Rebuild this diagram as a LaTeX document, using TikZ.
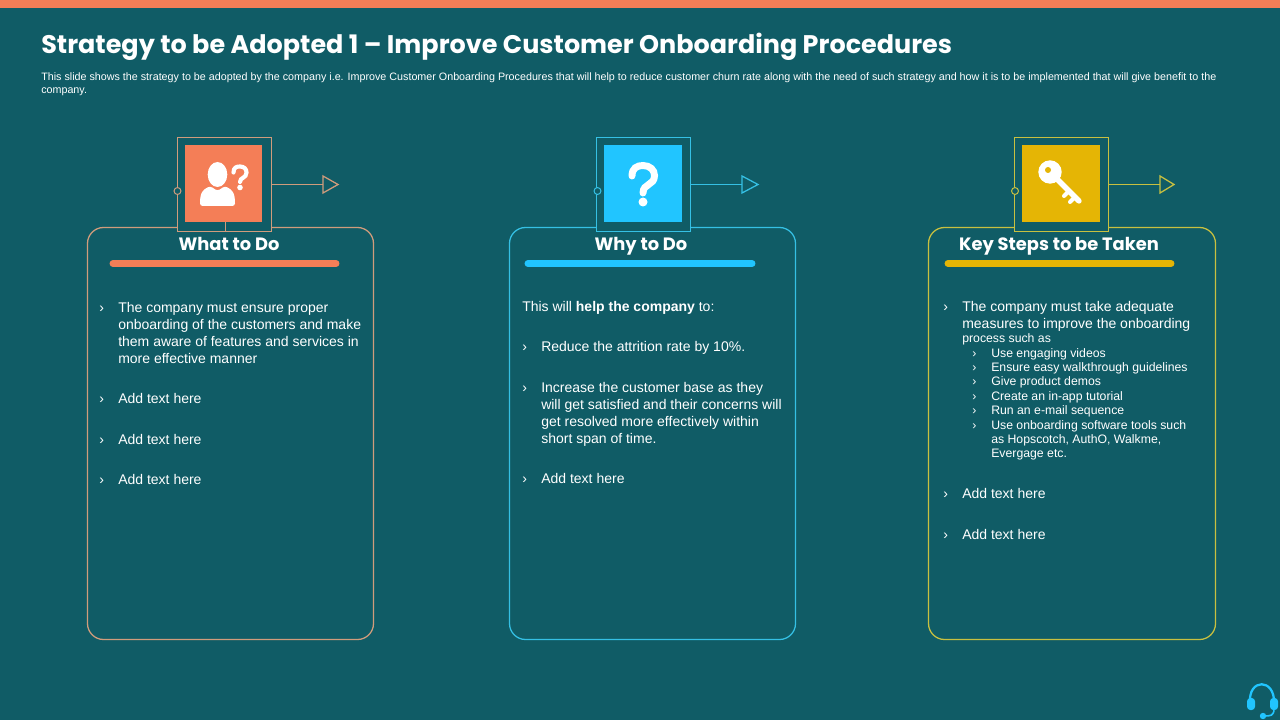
\documentclass[tikz,border=0pt]{standalone}
\usepackage{fontspec}
\setmainfont{Liberation Sans}
\newfontfamily\headfont{Poppins}
\definecolor{slidebg}{HTML}{105C66}
\definecolor{orangeC}{HTML}{F47E57}
\definecolor{blueC}{HTML}{21C5FF}
\definecolor{yellowC}{HTML}{E5B505}
\definecolor{orangeL}{HTML}{D09C7C}
\definecolor{blueL}{HTML}{35C0E4}
\definecolor{yellowL}{HTML}{C8C040}
\newcommand{\bodyfs}{\fontsize{10.5}{12.75}\selectfont}
\newcommand{\subfs}{\fontsize{9.2}{10.7}\selectfont}
\tikzset{
  x=0.75pt,y=-0.75pt,
  panel/.style={draw=#1,line width=0.95pt,rounded corners=12pt},
  iconframe/.style={fill=slidebg,minimum size=70.5pt,inner sep=0pt,outer sep=0pt,anchor=north west},
  tile/.style={fill=#1},
  barline/.style={line width=5.2pt,line cap=round,draw=#1},
  headtxt/.style={text=white,anchor=base,font=\headfont\bfseries\fontsize{13.4}{17}\selectfont,inner sep=0pt},
  bodytxt/.style={text=white,anchor=north west,inner sep=0pt,align=left,font=\bodyfs,yshift=-1.5pt},
  subtxt/.style={text=white,anchor=north west,inner sep=0pt,align=left,font=\subfs,yshift=-0.75pt},
  bul/.style={text=white,anchor=north west,inner sep=0pt,font=\bodyfs,text height=7.6pt,yshift=-1.5pt},
  subbul/.style={text=white,anchor=north west,inner sep=0pt,font=\subfs,text height=6.7pt,yshift=-0.75pt},
  tri/.style={draw=#1,line width=0.95pt},
  conn/.style={draw=#1,line width=0.95pt},
  port/.style={circle,draw=#1,fill=slidebg,line width=0.75pt,minimum size=5.2pt,inner sep=0pt},
}
\begin{document}
\begin{tikzpicture}
\useasboundingbox (0,0) rectangle (1280,720);
\fill[slidebg] (0,0) rectangle (1280,720);
\fill[orangeC] (0,0) rectangle (1280,8);
\node[text=white,anchor=west,inner sep=0pt,font=\headfont\bfseries\fontsize{19.1}{24}\selectfont] (title) at (41,47) {Strategy to be Adopted 1 – Improve Customer Onboarding Procedures};
\node[text=white,anchor=north west,inner sep=0pt,align=left,font=\fontsize{8.05}{9.8}\selectfont] (subtitle) at (41,72) {This slide shows the strategy to be adopted by the company i.e. Improve Customer Onboarding Procedures that will help to reduce customer churn rate along with the need of such strategy and how it is to be implemented that will give benefit to the\\company.};

% panel 1
\draw[panel=orangeL] (87.5,227.5) rectangle (373.5,639.5);
\node[iconframe] (f1) at (177.5,137.5) {};
\draw[conn=orangeL] (f1.north west) rectangle (f1.south east);
\fill[tile=orangeC] (185,145) rectangle (262,222);
\draw[conn=orangeL] (225.5,222) -- (225.5,231);
\node[port=orangeL] (p1) at (177.5,191) {};
\coordinate (t1) at (323,184.5);
\draw[conn=orangeL] (f1.east |- t1) -- (t1);
\draw[tri=orangeL] (323,176) -- (338,184.5) -- (323,193) -- cycle;
\fill[white] (217.5,174.5) ellipse (9.8 and 12.5);
\fill[white,rounded corners=2pt] (200,206) .. controls (200,192) and (203,190) .. (210,186) -- (217.5,191) -- (225,186) .. controls (232,190) and (235,192) .. (235,206) -- cycle;
\draw[white,line width=3.1pt,line cap=round] (233.5,172.5) .. controls (233.5,167.5) and (236.5,166.5) .. (240,166.5) .. controls (244,166.5) and (246.5,169) .. (246.5,172.5) .. controls (246.5,178.5) and (240,177) .. (240,182);
\fill[white] (240,187.5) circle (2.8);
\node[headtxt] (h1) at (229,250) {What to Do};
\draw[barline=orangeC] (113,263.5) -- (336,263.5);
\node[bul] (b11) at (99,300) {›};
\node[bodytxt] (t11) at (118,300) {The company must ensure proper\\onboarding of the customers and make\\them aware of features and services in\\more effective manner};
\node[bul] (b12) at (99,391) {›};
\node[bodytxt] (t12) at (118,391) {Add text here};
\node[bul] (b13) at (99,432) {›};
\node[bodytxt] (t13) at (118,432) {Add text here};
\node[bul] (b14) at (99,472) {›};
\node[bodytxt] (t14) at (118,472) {Add text here};

% panel 2
\draw[panel=blueL] (509.5,227.5) rectangle (795.5,639.5);
\node[iconframe] (f2) at (596.5,137.5) {};
\draw[conn=blueL] (f2.north west) rectangle (f2.south east);
\fill[tile=blueC] (604,145) rectangle (682,222);
\node[port=blueL] (p2) at (597.5,191) {};
\coordinate (t2) at (742,184.5);
\draw[conn=blueL] (f2.east |- t2) -- (t2);
\draw[tri=blueL] (742,176) -- (758,184.5) -- (742,193) -- cycle;
\draw[white,line width=5.2pt,line cap=round] (632,176) .. controls (632,168) and (637,165.5) .. (643,165.5) .. controls (650,165.5) and (654.5,170) .. (654.5,175.5) .. controls (654.5,186) and (643,183) .. (643,193);
\fill[white] (643,202) circle (4.5);
\node[headtxt] (h2) at (641,250) {Why to Do};
\draw[barline=blueC] (528,263.5) -- (752,263.5);
\node[bodytxt] (t21) at (522,299) {This will \textbf{help the company} to:};
\node[bul] (b22) at (522,339) {›};
\node[bodytxt] (t22) at (541,339) {Reduce the attrition rate by 10\%.};
\node[bul] (b23) at (522,380) {›};
\node[bodytxt] (t23) at (541,380) {Increase the customer base as they\\will get satisfied and their concerns will\\get resolved more effectively within\\short span of time.};
\node[bul] (b24) at (522,471) {›};
\node[bodytxt] (t24) at (541,471) {Add text here};

% panel 3
\draw[panel=yellowL] (928.5,227.5) rectangle (1215.5,639.5);
\node[iconframe] (f3) at (1014.5,137.5) {};
\draw[conn=yellowL] (f3.north west) rectangle (f3.south east);
\fill[tile=yellowC] (1022,145) rectangle (1100,222);
\node[port=yellowL] (p3) at (1015,191) {};
\coordinate (t3) at (1160,184.5);
\draw[conn=yellowL] (f3.east |- t3) -- (t3);
\draw[tri=yellowL] (1160,176) -- (1174,184.5) -- (1160,193) -- cycle;
% key
\draw[white,line width=4pt,line cap=round] (1056,178) -- (1079,201);
\draw[white,line width=3pt,line cap=round] (1069,191) -- (1064,196);
\draw[white,line width=3pt,line cap=round] (1075,197) -- (1070,202);
\fill[white] (1050,172) circle (11.7);
\fill[yellowC] (1048,170) circle (3);
\node[headtxt] (h3) at (1059,250) {Key Steps to be Taken};
\draw[barline=yellowC] (948,263.5) -- (1171,263.5);
\node[bul] (b31) at (943,299) {›};
\node[bodytxt] (t31) at (962,299) {The company must take adequate\\measures to improve the onboarding};
\node[subtxt] (t31b) at (962,332) {process such as};
\node[subbul] (s1) at (972,347) {›};
\node[subtxt] (u1) at (991,347) {Use engaging videos};
\node[subbul] (s2) at (972,361) {›};
\node[subtxt] (u2) at (991,361) {Ensure easy walkthrough guidelines};
\node[subbul] (s3) at (972,375) {›};
\node[subtxt] (u3) at (991,375) {Give product demos};
\node[subbul] (s4) at (972,390) {›};
\node[subtxt] (u4) at (991,390) {Create an in-app tutorial};
\node[subbul] (s5) at (972,404) {›};
\node[subtxt] (u5) at (991,404) {Run an e-mail sequence};
\node[subbul] (s6) at (972,419) {›};
\node[subtxt] (u6) at (991,419) {Use onboarding software tools such\\as Hopscotch, AuthO, Walkme,\\Evergage etc.};
\node[bul] (b32) at (943,486) {›};
\node[bodytxt] (t32) at (962,486) {Add text here};
\node[bul] (b33) at (943,527) {›};
\node[bodytxt] (t33) at (962,527) {Add text here};

% headset icon
\draw[blueC,line width=1.7pt] (1250,703) .. controls (1248,678) and (1275,678) .. (1274,703);
\fill[blueC,rounded corners=2.5pt] (1247,698) rectangle (1255,710);
\fill[blueC,rounded corners=2.5pt] (1270,698) rectangle (1278,710);
\draw[blueC,line width=1.2pt] (1274,709) .. controls (1274,716) and (1270,716) .. (1264,716);
\fill[blueC] (1263,716) circle (3.2);
\end{tikzpicture}
\end{document}
